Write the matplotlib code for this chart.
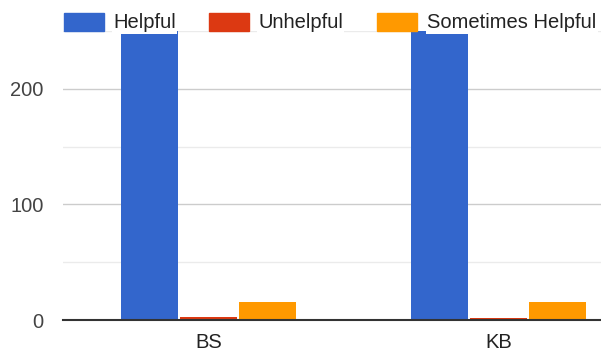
import matplotlib.pyplot as plt
import matplotlib.patches as mpatches
import numpy as np

# --- dane ---
kategorie = ["BS", "KB"]
serie = ["Helpful", "Unhelpful", "Sometimes Helpful"]
helpful = [290, 290]
unhelpful = [2.5, 1.5]
sometimes = [15.5, 15.5]
kolory = ["#3366cc", "#dc3912", "#ff9900"]

plt.rcParams['font.family'] = ['Liberation Sans', 'DejaVu Sans']

fig = plt.figure(figsize=(6.01, 3.53), dpi=100)
ax = fig.add_axes([63 / 601, 33 / 353, 538 / 601, 289 / 353])

x = np.arange(len(kategorie))
szer = 0.203
for i, (vals, kol) in enumerate(zip([helpful, unhelpful, sometimes], kolory)):
    ax.bar(x + (i - 1) * szer, vals, width=szer - 0.007, color=kol, zorder=3)

# --- osie ---
ax.set_ylim(0, 250)
ax.set_xlim(-0.502, 1.353)
ax.set_yticks([0, 100, 200])
ax.set_yticks([50, 150, 250], minor=True)
ax.set_xticks(x)
ax.set_xticklabels(kategorie, fontsize=14.5, color="#222222")
ax.tick_params(axis="y", labelsize=14.5, labelcolor="#444444", length=0, pad=14)
ax.tick_params(axis="y", which="minor", length=0)
ax.tick_params(axis="x", length=0, pad=9)
ax.grid(axis="y", which="major", color="#cccccc", linewidth=1, zorder=0)
ax.grid(axis="y", which="minor", color="#ebebeb", linewidth=1, zorder=0)
for s in ["top", "right", "left"]:
    ax.spines[s].set_visible(False)
ax.spines["bottom"].set_color("#333333")
ax.spines["bottom"].set_linewidth(1.5)
ax.spines["bottom"].set_zorder(4)

# --- legenda (recznie) ---
legenda = [(64, 113), (209, 258), (377, 427)]
for (bx, tx), nazwa, kol in zip(legenda, serie, kolory):
    fig.patches.append(mpatches.Rectangle((bx / 601, 1 - 31 / 353), 40 / 601, 18 / 353,
                                          transform=fig.transFigure, color=kol, zorder=10))
    fig.text(tx / 601, 1 - 23 / 353, nazwa, fontsize=14.5, color="#222222", va="center", ha="left",
             zorder=10, bbox=dict(facecolor="white", edgecolor="none", pad=1))

fig.savefig("out.png", dpi=100)
